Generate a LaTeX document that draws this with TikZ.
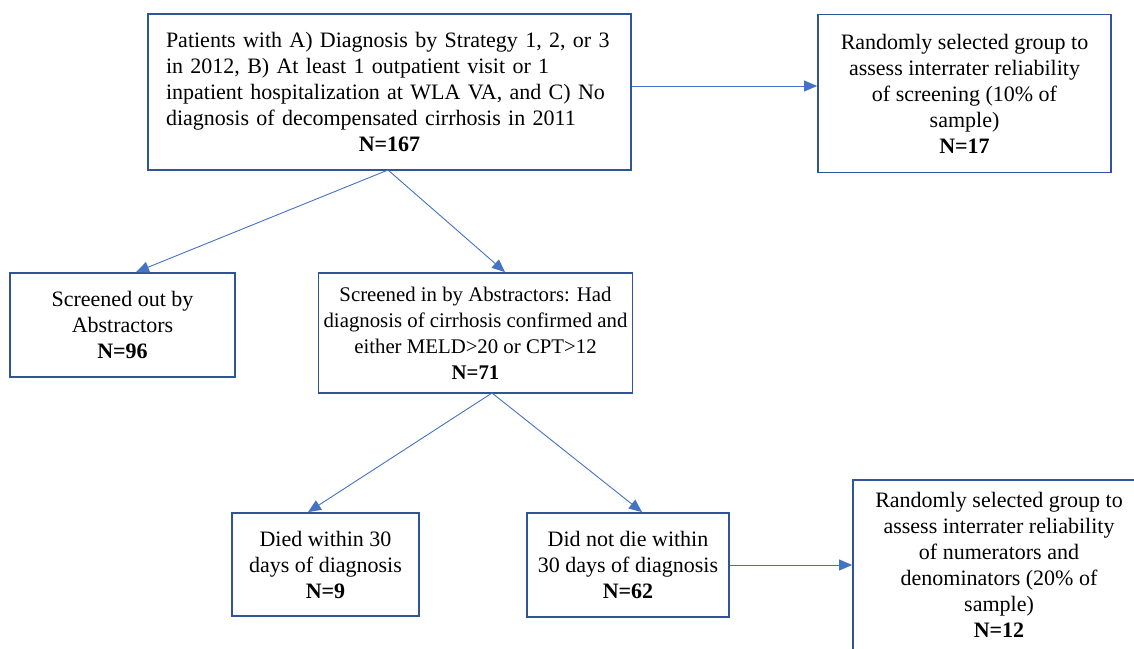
\documentclass[tikz,border=0pt]{standalone}
\usepackage{fontspec}
\setmainfont{Liberation Serif}
\usetikzlibrary{arrows.meta}
\definecolor{boxblue}{HTML}{2F5597}
\definecolor{arrblue}{HTML}{4472C4}
\tikzset{
  box/.style={draw=boxblue, line width=1.8pt, rectangle, inner sep=0pt, align=center,
    font=\fontsize{22}{26}\selectfont},
  arr/.style={draw=arrblue, line width=0.9pt, -{Triangle[length=13pt,width=11pt]}}
}
\begin{document}
\begin{tikzpicture}[x=1pt,y=-1pt]
\useasboundingbox (0,0) rectangle (1134,648);
\clip (0,0) rectangle (1134,648);
\node[box, minimum width=483pt, minimum height=156pt, align=left, text width=447pt] (top) at (389.5,92)
 {Patients with A) Diagnosis by Strategy 1, 2, or 3\\in 2012, B) At least 1 outpatient visit or 1\\inpatient hospitalization at WLA VA, and C) No\\diagnosis of decompensated cirrhosis in 2011\\\makebox[\linewidth][c]{\bfseries N=167}};
\node[box, minimum width=293pt, minimum height=158pt] (rel1) at (964.5,93.5)
 {Randomly selected group to\\assess interrater reliability\\of screening (10\% of\\sample)\\\textbf{N=17}};
\node[box, minimum width=225pt, minimum height=104pt] (out) at (122.5,325)
 {Screened out by\\Abstractors\\\textbf{N=96}};
\node[box, minimum width=314pt, minimum height=120pt, font=\fontsize{20.8}{26}\selectfont] (in) at (475.5,333)
 {Screened in by Abstractors: Had\\diagnosis of cirrhosis confirmed and\\either MELD>20 or CPT>12\\\textbf{N=71}};
\node[box, minimum width=187pt, minimum height=103pt] (died) at (325.5,564.5)
 {Died within 30\\days of diagnosis\\\textbf{N=9}};
\node[box, minimum width=202pt, minimum height=104pt] (alive) at (628,565)
 {Did not die within\\30 days of diagnosis\\\textbf{N=62}};
\node[box, minimum width=292pt, minimum height=170pt] (rel2) at (999,565)
 {Randomly selected group to\\assess interrater reliability\\of numerators and\\denominators (20\% of\\sample)\\\textbf{N=12}};
\coordinate (s1) at (388,170);
\coordinate (s2) at (492,393);
\draw[arr] (s1) -- (out.north -| 136,0);
\draw[arr] (s1) -- (in.north -| 505,0);
\draw[arr] (s2) -- (died.north -| 308,0);
\draw[arr] (s2) -- (alive.north -| 642,0);
\draw[arr] (top.east |- 0,86) -- (rel1.west |- 0,86);
\draw[arr] (alive.east |- 0,565) -- (rel2.west |- 0,565);
\end{tikzpicture}
\end{document}
